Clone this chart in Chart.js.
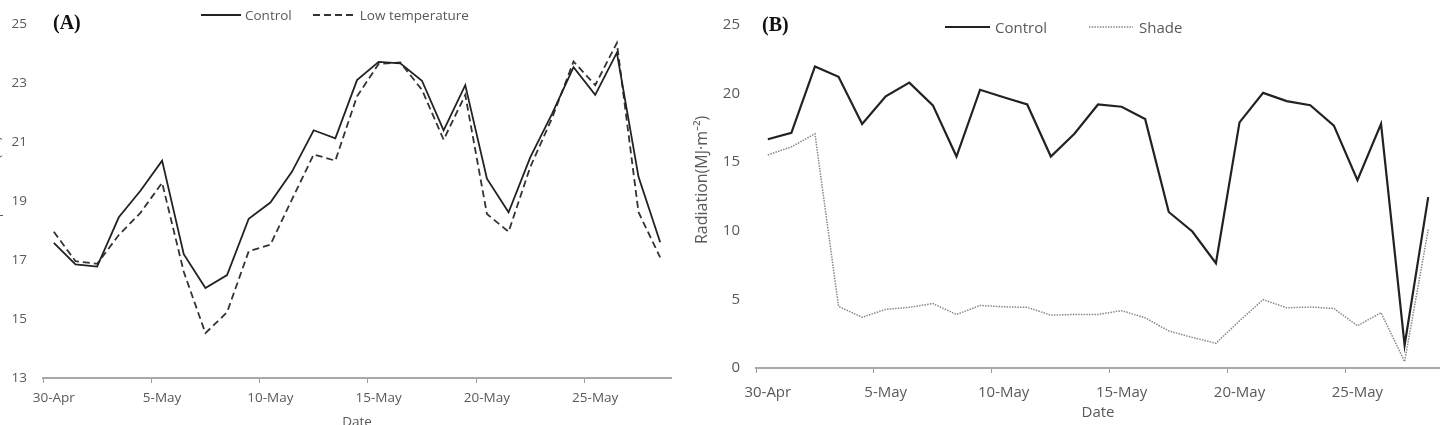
<!DOCTYPE html>
<html>
<head>
<meta charset="utf-8">
<script src="https://cdn.jsdelivr.net/npm/chart.js@4/dist/chart.umd.min.js"></script>
<style>
  html,body{margin:0;padding:0;background:#fff;}
  body{width:1440px;height:425px;overflow:hidden;position:relative;font-family:"Open Sans",sans-serif;}
  .wrap{position:absolute;top:0;}
  .panel{position:absolute;font-family:"Liberation Serif",serif;font-weight:bold;font-size:20px;color:#111;line-height:1;}
  .leg{position:absolute;display:flex;align-items:center;color:#595959;white-space:nowrap;}
  .leg svg{display:block;}
</style>
</head>
<body>
<div class="wrap" style="left:-16px;width:699px;height:440px;"><canvas id="c1" width="699" height="440"></canvas></div>
<div class="wrap" style="left:690px;width:750px;height:425px;"><canvas id="c2" width="750" height="425"></canvas></div>

<div class="panel" style="left:53px;top:12px;">(A)</div>
<div class="panel" style="left:762px;top:14px;">(B)</div>

<div class="leg" style="left:201px;top:6px;height:18px;font-size:13.5px;">
  <svg width="40" height="4"><line x1="0" y1="2" x2="40" y2="2" stroke="#222" stroke-width="1.8"/></svg>
  <span style="margin-left:4px;">Control</span>
  <svg width="42" height="4" style="margin-left:21px;"><line x1="0" y1="2" x2="42" y2="2" stroke="#333" stroke-width="1.8" stroke-dasharray="7,4"/></svg>
  <span style="margin-left:5px;">Low temperature</span>
</div>

<div class="leg" style="left:945px;top:17px;height:20px;font-size:15px;">
  <svg width="45" height="4"><line x1="0" y1="2" x2="45" y2="2" stroke="#222" stroke-width="2.2"/></svg>
  <span style="margin-left:5px;">Control</span>
  <svg width="44" height="4" style="margin-left:42px;"><line x1="0" y1="2" x2="44" y2="2" stroke="#888" stroke-width="1.5" stroke-dasharray="1.5,1.2"/></svg>
  <span style="margin-left:6px;">Shade</span>
</div>

<script>
const dates = ['30-Apr','1-May','2-May','3-May','4-May','5-May','6-May','7-May','8-May','9-May','10-May','11-May','12-May','13-May','14-May','15-May','16-May','17-May','18-May','19-May','20-May','21-May','22-May','23-May','24-May','25-May','26-May','27-May','28-May'];

const tempControl = [17.58,16.85,16.78,18.45,19.35,20.37,17.2,16.05,16.49,18.4,18.95,20.0,21.4,21.13,23.1,23.72,23.67,23.08,21.4,22.93,19.76,18.62,20.48,21.95,23.54,22.6,24.03,19.82,17.6];
const tempLow = [17.96,16.96,16.87,17.85,18.6,19.62,16.6,14.52,15.23,17.3,17.52,19.06,20.58,20.37,22.55,23.65,23.7,22.77,21.08,22.6,18.56,17.96,20.15,21.8,23.73,22.93,24.36,18.62,17.09];

const radControl = [16.67,17.14,21.98,21.22,17.78,19.8,20.8,19.14,15.41,20.28,19.73,19.21,15.41,17.07,19.21,19.04,18.14,11.37,9.95,7.64,17.9,20.05,19.45,19.15,17.67,13.69,17.79,1.66,12.46];
const radShade = [15.53,16.12,17.07,4.49,3.7,4.27,4.42,4.7,3.9,4.56,4.46,4.42,3.85,3.9,3.9,4.18,3.66,2.7,2.23,1.8,3.44,4.98,4.39,4.44,4.34,3.08,4.03,0.47,10.08];

const tempTicks = {min:13, max:25, step:2};
const radTicks = {min:0, max:25, step:5};
const labelEvery = 5;

const grey = '#595959';

function makeChart(id, cfg) {
  return new Chart(document.getElementById(id), {
    type: 'line',
    data: {
      labels: dates,
      datasets: cfg.datasets
    },
    options: {
      responsive: false,
      animation: false,
      layout: {padding: cfg.padding},
      plugins: {legend: {display: false}, tooltip: {enabled: false}},
      elements: {point: {radius: 0}, line: {tension: 0}},
      scales: {
        x: {
          type: 'category',
          offset: true,
          grid: {
            display: true,
            offset: true,
            drawOnChartArea: false,
            drawTicks: true,
            tickLength: 5,
            lineWidth: 1,
            color: ctx => (ctx.index % labelEvery === 0) ? '#9a9a9a' : 'rgba(0,0,0,0)'
          },
          border: {display: true, color: '#a8a8a8', width: 2},
          ticks: {
            autoSkip: false,
            maxRotation: 0,
            minRotation: 0,
            padding: cfg.xPad,
            color: grey,
            font: {family: 'Open Sans', size: cfg.fs},
            callback: function(v, i) { return i % labelEvery === 0 ? this.getLabelForValue(v) : ''; }
          },
          title: {display: true, text: 'Date', color: grey, font: {family: 'Open Sans', size: cfg.fs}, padding: {top: 0, bottom: cfg.xTitlePad}},
          afterFit: s => { s.height = cfg.xHeight; }
        },
        y: {
          min: cfg.yt.min,
          max: cfg.yt.max,
          grid: {display: false, drawTicks: false},
          border: {display: false},
          ticks: {stepSize: cfg.yt.step, padding: 16, color: grey, font: {family: 'Open Sans', size: cfg.fs}},
          title: {display: true, text: cfg.yTitle, color: grey, font: {family: 'Open Sans', size: cfg.yTitleFs}, padding: {top: cfg.yTitlePad, bottom: 0}},
          afterFit: s => { s.width = cfg.yWidth; }
        }
      }
    }
  });
}

makeChart('c1', {
  datasets: [
    {label: 'Control', data: tempControl, borderColor: '#222', borderWidth: 1.8, fill: false},
    {label: 'Low temperature', data: tempLow, borderColor: '#333', borderWidth: 1.8, borderDash: [7,4], fill: false}
  ],
  padding: {top: 12, right: 12, bottom: 0, left: 0},
  fs: 13.5,
  xPad: 7,
  xTitlePad: 10,
  xHeight: 62,
  yWidth: 59,
  yt: tempTicks,
  yTitle: 'Air Temperature (°C)',
  yTitleFs: 13.5,
  yTitlePad: 4
});

makeChart('c2', {
  datasets: [
    {label: 'Control', data: radControl, borderColor: '#222', borderWidth: 2.2, fill: false},
    {label: 'Shade', data: radShade, borderColor: '#888', borderWidth: 1.5, borderDash: [1.5,1.2], fill: false}
  ],
  padding: {top: 17, right: 0, bottom: 0, left: 0},
  fs: 15,
  xPad: 11,
  xTitlePad: 3,
  xHeight: 57,
  yWidth: 66,
  yt: radTicks,
  yTitle: '        Radiation(MJ·m⁻²)',
  yTitleFs: 16,
  yTitlePad: 3
});
</script>
</body>
</html>
